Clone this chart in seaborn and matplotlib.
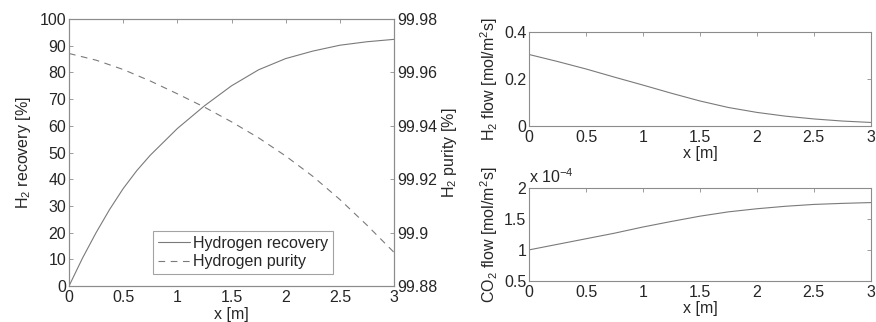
import numpy as np
import pandas as pd
import matplotlib
matplotlib.use("Agg")
import matplotlib.pyplot as plt
import seaborn as sns

# data
x = [0, 0.25, 0.5, 0.75, 1.0, 1.25, 1.5, 1.75, 2.0, 2.25, 2.5, 2.75, 3.0]
recovery = [0, 20.0, 36.5, 49.0, 59.0, 67.5, 75.0, 81.0, 85.2, 88.0, 90.2, 91.5, 92.4]
purity = [99.9671, 99.9646, 99.9611, 99.9568, 99.9520, 99.9470, 99.9415,
          99.9355, 99.9287, 99.9211, 99.9124, 99.9028, 99.8926]
h2_flow = [0.305, 0.275, 0.243, 0.208, 0.174, 0.139, 0.106, 0.078, 0.057,
           0.041, 0.029, 0.020, 0.014]
co2_flow = [1.00, 1.09, 1.18, 1.27, 1.37, 1.46, 1.545, 1.615, 1.665, 1.705, 1.735,
            1.752, 1.765]  # x 1e-4

# extra recovery readings near the inlet where the curve bends most
x_rec_extra = [0.125, 0.375, 0.625]
rec_extra = [10.5, 28.7, 43.2]

x_ticks = [0, 0.5, 1, 1.5, 2, 2.5, 3]
x_ticklabels = ["0", "0.5", "1", "1.5", "2", "2.5", "3"]

sns.set_style("white")
plt.rcParams["font.family"] = ["Liberation Sans", "DejaVu Sans"]
plt.rcParams["mathtext.fontset"] = "custom"
plt.rcParams["mathtext.rm"] = "Liberation Sans"
fs = 11.5
plt.rcParams["font.size"] = fs

df = pd.DataFrame({"x": x, "recovery": recovery, "purity": purity,
                   "h2": h2_flow, "co2": co2_flow})
df_rec = pd.concat([df[["x", "recovery"]],
                    pd.DataFrame({"x": x_rec_extra, "recovery": rec_extra})]
                   ).sort_values("x")

line_col = "#7a7a7a"
spine_col = "#8c8c8c"


def style_axes(ax, yticks, ylabels, right=True):
    ax.set_xlim(0, 3)
    ax.set_xticks(x_ticks)
    ax.set_xticklabels(x_ticklabels)
    ax.set_yticks(yticks)
    ax.set_yticklabels(ylabels)
    for s in ax.spines.values():
        s.set_color(spine_col)
        s.set_linewidth(0.8)
    ax.tick_params(direction="in", length=3, color=spine_col, top=True,
                   right=right, labelsize=fs, pad=2, width=0.6)
    ax.tick_params(axis="x", pad=3)
    ax.set_xlabel("x [m]", labelpad=1)


fig = plt.figure(figsize=(8.76, 3.22), dpi=100)

# left: recovery and purity
ax1 = fig.add_axes([0.0788, 0.1118, 0.371, 0.829])
sns.lineplot(data=df_rec, x="x", y="recovery", ax=ax1, color=line_col, lw=0.8,
             label="Hydrogen recovery", legend=False)
ax1.set_ylim(0, 100)
style_axes(ax1, range(0, 101, 10), [str(v) for v in range(0, 101, 10)], right=False)
ax1.set_ylabel(r"H$_2$ recovery [%]", labelpad=5)

ax2 = ax1.twinx()
sns.lineplot(data=df, x="x", y="purity", ax=ax2, color=line_col, lw=0.8,
             linestyle=(0, (6, 5)), label="Hydrogen purity", legend=False)
ax2.set_ylim(99.88, 99.98)
p_ticks = [99.88, 99.9, 99.92, 99.94, 99.96, 99.98]
style_axes(ax2, p_ticks, ["99.88", "99.9", "99.92", "99.94", "99.96", "99.98"])
ax2.tick_params(left=False, top=False)
ax2.set_ylabel(r"H$_2$ purity [%]", labelpad=2)

h1, l1 = ax1.get_legend_handles_labels()
h2, l2 = ax2.get_legend_handles_labels()
leg = ax2.legend(h1 + h2, l1 + l2, loc="lower left",
                 bbox_to_anchor=(0.258, 0.045), frameon=True, fancybox=False,
                 fontsize=fs, handlelength=2.0, borderpad=0.3,
                 labelspacing=0.2, handletextpad=0.2, borderaxespad=0)
leg.get_frame().set_edgecolor(spine_col)
leg.get_frame().set_linewidth(0.8)

# top right: H2 flow
ax3 = fig.add_axes([0.604, 0.6096, 0.390, 0.290])
sns.lineplot(data=df, x="x", y="h2", ax=ax3, color=line_col, lw=0.8)
ax3.set_ylim(0, 0.4)
style_axes(ax3, [0, 0.2, 0.4], ["0", "0.2", "0.4"])
ax3.set_ylabel(r"H$_2$ flow [mol/m$^2$s]", labelpad=3)

# bottom right: CO2 flow
ax4 = fig.add_axes([0.604, 0.128, 0.390, 0.288])
sns.lineplot(data=df, x="x", y="co2", ax=ax4, color=line_col, lw=0.8)
ax4.set_ylim(0.5, 2)
style_axes(ax4, [0.5, 1, 1.5, 2], ["0.5", "1", "1.5", "2"])
ax4.set_ylabel(r"CO$_2$ flow [mol/m$^2$s]", labelpad=3)
ax4.text(0.0, 1.02, r"x 10$^{-4}$", transform=ax4.transAxes, fontsize=fs,
         ha="left", va="bottom")

fig.savefig("out.png", dpi=100)
